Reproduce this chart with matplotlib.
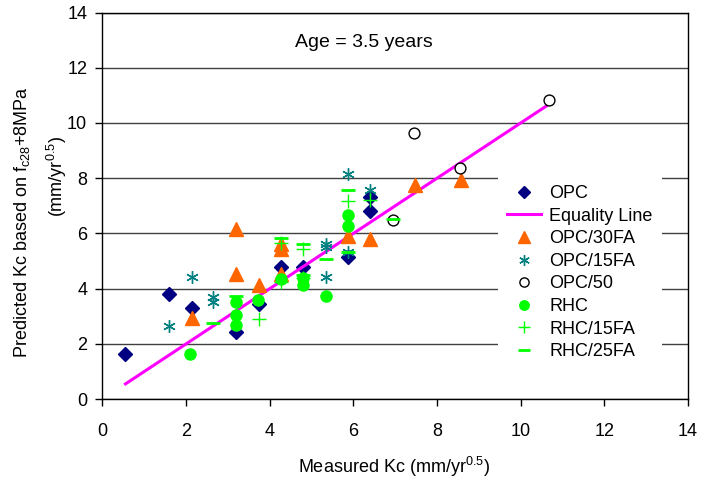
import matplotlib
matplotlib.use("Agg")
import matplotlib.pyplot as plt

plt.rcParams['font.family'] = ['Liberation Sans', 'DejaVu Sans']
plt.rcParams['mathtext.fontset'] = 'custom'
plt.rcParams['mathtext.rm'] = 'Liberation Sans'
plt.rcParams['mathtext.it'] = 'Liberation Sans:italic'
plt.rcParams['mathtext.bf'] = 'Liberation Sans:bold'

# ---- data ----
opc_x = [0.55, 1.59, 2.13, 3.19, 3.75, 4.27, 4.79, 5.87, 6.40, 6.40]
opc_y = [1.63, 3.79, 3.29, 2.42, 3.46, 4.78, 4.78, 5.13, 6.83, 7.32]

eq_x = [0.55, 10.68]
eq_y = [0.55, 10.68]

opc30_x = [2.13, 3.19, 3.19, 3.75, 4.27, 4.27, 4.27, 5.87, 6.40, 7.48, 8.58]
opc30_y = [2.95, 4.52, 6.17, 4.12, 5.43, 5.60, 4.52, 5.90, 5.81, 7.74, 7.95]

opc15_x = [1.59, 2.13, 2.64, 2.64, 5.35, 5.35, 5.35, 5.87, 5.87, 6.40]
opc15_y = [2.65, 4.41, 3.70, 3.52, 5.63, 5.51, 4.43, 8.14, 5.33, 7.59]

opc50_x = [6.95, 7.46, 8.55, 10.68]
opc50_y = [6.50, 9.63, 8.38, 10.85]

rhc_x = [2.10, 3.19, 3.19, 3.19, 3.72, 4.27, 4.79, 4.79, 5.35, 5.87, 5.87]
rhc_y = [1.63, 3.52, 3.04, 2.68, 3.58, 4.35, 4.37, 4.12, 3.75, 6.66, 6.26]

rhc15_x = [3.75, 4.27, 4.27, 4.79, 5.87, 6.40, 4.79]
rhc15_y = [2.90, 5.65, 4.24, 5.45, 7.17, 7.22, 4.40]

rhc25_x = [2.64, 3.19, 4.27, 4.79, 5.35, 5.87, 5.87, 6.95, 4.79]
rhc25_y = [2.75, 3.74, 5.85, 5.62, 5.09, 7.56, 5.33, 6.52, 4.49]

xticks = [0, 2, 4, 6, 8, 10, 12, 14]
yticks = [0, 2, 4, 6, 8, 10, 12, 14]

# ---- figure ----
fig = plt.figure(figsize=(7.02, 4.82), dpi=100)
ax = fig.add_axes([0.146, 0.172, 0.834, 0.802])

fs = 13

ax.plot(opc_x, opc_y, linestyle='none', marker='D', markersize=7.2,
        color='#000080', label='OPC', zorder=3)
ax.plot(eq_x, eq_y, color='#FF00FF', linewidth=2.2, label='Equality Line', zorder=4)
ax.plot(opc30_x, opc30_y, linestyle='none', marker='^', markersize=9.5,
        color='#FF6600', label='OPC/30FA', zorder=5)
ax.plot(opc15_x, opc15_y, linestyle='none', marker=(6, 2, 0), markersize=9,
        markeredgewidth=1.0, color='#008080', label='OPC/15FA', zorder=6)
ax.plot(opc50_x, opc50_y, linestyle='none', marker='o', markersize=7.8,
        markerfacecolor='white', markeredgecolor='black', markeredgewidth=1.0,
        label='OPC/50', zorder=7)
ax.plot(rhc_x, rhc_y, linestyle='none', marker='o', markersize=8,
        color='#00FF00', label='RHC', zorder=8)
ax.plot(rhc15_x, rhc15_y, linestyle='none', marker='+', markersize=10,
        markeredgewidth=1.0, color='#00FF00', label='RHC/15FA', zorder=9)
ax.plot(rhc25_x, rhc25_y, linestyle='none', marker='_', markersize=10,
        markeredgewidth=2.0, color='#00FF00', label='RHC/25FA', zorder=10)

ax.set_xlim(0, 14)
ax.set_ylim(0, 14)
ax.set_xticks(xticks)
ax.set_yticks(yticks)
ax.tick_params(axis='both', direction='out', length=5, width=1,
               labelsize=fs, colors='black')
ax.tick_params(axis='x', pad=12)
ax.tick_params(axis='y', pad=6)
ax.yaxis.grid(True, color='#404040', linewidth=1.0)
ax.set_axisbelow(True)
for s in ax.spines.values():
    s.set_color('black')
    s.set_linewidth(1.0)

ax.text(6.26, 12.9, 'Age = 3.5 years', fontsize=14, ha='center', va='center')

fig.text(394 / 702, 1 - 467 / 482, r'Measured Kc (mm/yr$^{\mathrm{0.5}}$)',
         fontsize=fs, ha='center', va='center')
fig.text(22 / 702, 1 - 222 / 482, r'Predicted Kc based on f$_{\mathrm{c28}}$+8MPa',
         fontsize=fs, ha='center', va='center', rotation=90)
fig.text(57 / 702, 1 - 176 / 482, r'(mm/yr$^{\mathrm{0.5}}$)',
         fontsize=fs, ha='center', va='center', rotation=90)

leg = ax.legend(loc='upper left', bbox_to_anchor=(498 / 702, 1 - 176 / 482),
                bbox_transform=fig.transFigure, fontsize=fs, frameon=True,
                fancybox=False, edgecolor='none', facecolor='white', framealpha=1,
                handlelength=1.9, handletextpad=0.45, labelspacing=0.31,
                borderpad=0.5, borderaxespad=0, markerscale=0.85)
leg.set_zorder(20)

fig.savefig('out.png', dpi=100)
